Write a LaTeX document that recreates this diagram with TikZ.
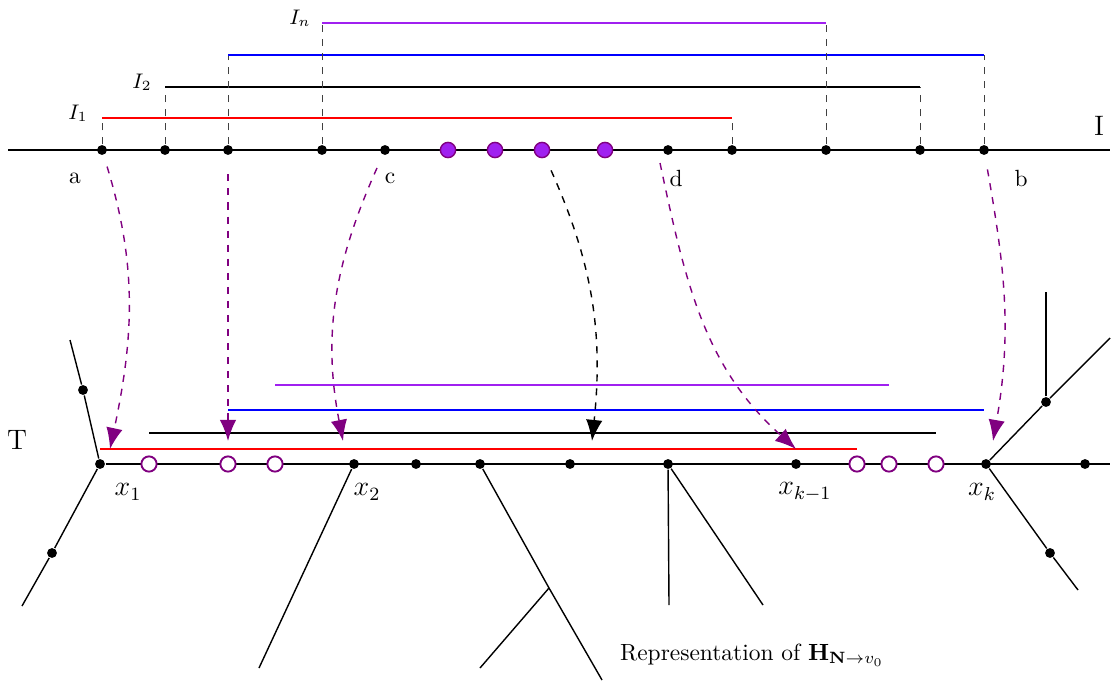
\documentclass[tikz,border=0pt]{standalone}
\usetikzlibrary{arrows.meta}
\definecolor{lightpurple}{RGB}{160,32,240}
\begin{document}
\begin{tikzpicture}[x=0.015cm,y=-0.015cm,semithick,
    dot/.style={circle,fill,inner sep=0pt,minimum size=4.2pt},
    bigdot/.style={circle,draw=violet,fill=lightpurple,inner sep=0pt,minimum size=6.5pt,line width=0.6pt},
    hollow/.style={circle,draw=violet,fill=white,inner sep=0pt,minimum size=6.5pt,line width=0.8pt},
    guide/.style={dashed,thin,black!75},
    maparrow/.style={dashed,violet,-{Latex[length=9pt,width=7pt]}}]
    \useasboundingbox (0,0) rectangle (1113,680);
    % the interval I
    \coordinate (Il) at (8,150);
    \coordinate (Ir) at (1110,150);
    \draw (Il) -- (Ir);
    \node[font=\large] (lI) at (1099,126) {I};
    \foreach [count = \i] \x in {102,165,228,322,385,668,732,826,920,984}
        \node[dot] (p\i) at (\x,150) {};
    \foreach [count = \i] \x in {448,495,542,605}
        \node[bigdot] (q\i) at (\x,150) {};
    \node (la) at (75,178) {a};
    \node (lc) at (390,178) {c};
    \node (ld) at (676,178) {d};
    \node (lb) at (1021,178) {b};
    % intervals I_1 ... I_n
    \foreach \l/\r/\h/\c in {1/7/118/red,2/9/87/black,3/10/55/blue,4/8/23/lightpurple} {
        \coordinate (s\l) at (p\l |- 0,\h);
        \coordinate (e\l) at (p\r |- 0,\h);
        \draw[guide] (p\l) -- (s\l);
        \draw[guide] (p\r) -- (e\l);
        \draw[\c] (s\l) -- (e\l);
    }
    \node[font=\small] (lI1) at (78,113) {$I_1$};
    \node[font=\small] (lI2) at (142,82) {$I_2$};
    \node[font=\small] (lIn) at (300,18) {$I_n$};
    % the tree T
    \node[font=\large] (lT) at (17,440) {T};
    \node[dot] (x1) at (100,464) {};
    \coordinate (Tr) at (1110,464);
    \draw (x1) -- (Tr);
    \foreach [count = \i] \x in {354,416,480,570,668,796,986,1085}
        \node[dot] (t\i) at (\x,464) {};
    \foreach [count = \i] \x in {149,228,275,857,889,936}
        \node[hollow] (h\i) at (\x,464) {};
    \node[font=\large] (lx1) at (128,492) {$x_1$};
    \node[font=\large] (lx2) at (367,492) {$x_2$};
    \node[font=\large] (lxk1) at (805,492) {$x_{k-1}$};
    \node[font=\large] (lxk) at (982,492) {$x_k$};
    % branches
    \node[dot] (b1) at (83,390) {};
    \node[dot] (b2) at (52,553) {};
    \node[dot] (b3) at (1046,402) {};
    \node[dot] (b4) at (1050,553) {};
    \coordinate (e1) at (70,340);
    \coordinate (e2) at (22,606);
    \coordinate (e3) at (259,668);
    \coordinate (e4) at (602,680);
    \coordinate (f4) at (549,588);
    \coordinate (e5) at (480,668);
    \coordinate (e6) at (669,605);
    \coordinate (e7) at (763,605);
    \coordinate (e8) at (1110,338);
    \coordinate (e9) at (1046,292);
    \coordinate (e10) at (1078,590);
    \draw (x1) -- (b1) -- (e1);
    \draw (x1) -- (b2) -- (e2);
    \draw (t1) -- (e3);
    \draw (t3) -- (f4) -- (e4);
    \draw (f4) -- (e5);
    \draw (t5) -- (e6);
    \draw (t5) -- (e7);
    \draw (t7) -- (b3) -- (e8);
    \draw (b3) -- (e9);
    \draw (t7) -- (b4) -- (e10);
    % intervals on T
    \foreach \l/\r/\h/\c in {100/857/449/red,149/936/433/black,228/984/410/blue,275/889/385/lightpurple} {
        \coordinate (u\h) at (\l,\h);
        \coordinate (v\h) at (\r,\h);
        \draw[\c] (u\h) -- (v\h);
    }
    % the maps
    \coordinate (n5) at (660,163);
    \coordinate (m1) at (110,449);
    \coordinate (m2) at (228,441);
    \coordinate (m3) at (343,441);
    \coordinate (m4) at (592,441);
    \coordinate (m5) at (796,449);
    \coordinate (m6) at (993,441);
    \draw[maparrow,shorten <=5pt] (p1) to[out=-73,in=78] (m1);
    \draw[maparrow,shorten <=8pt] (p3) -- (m2);
    \draw[maparrow,shorten <=6pt] (p5) to[out=-114,in=101] (m3);
    \draw[maparrow,black,shorten <=6pt] (q3) to[out=-66,in=84] (m4);
    \draw[maparrow] (n5) to[out=-78,in=138] (m5);
    \draw[maparrow,shorten <=6pt] (p10) to[out=-80,in=80] (m6);
    \node (cap) at (752,655) {Representation of $\mathbf{H}_{\mathbf{N}\to v_0}$};
\end{tikzpicture}
\end{document}
